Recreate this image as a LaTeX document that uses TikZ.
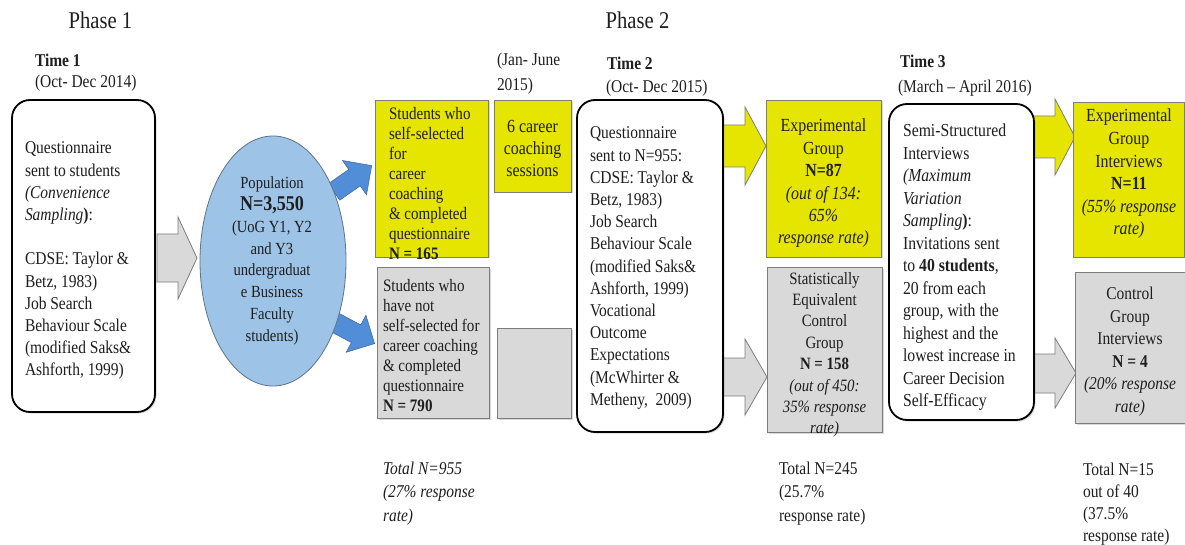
\documentclass[tikz,border=0pt]{standalone}
\usepackage{fontspec}
\setmainfont{Liberation Serif}[FakeStretch=0.86]
\usetikzlibrary{shapes.geometric,shadows}
\definecolor{ylw}{RGB}{229,229,0}
\definecolor{gbox}{RGB}{217,217,217}
\definecolor{gedge}{RGB}{125,125,125}
\definecolor{ellfill}{RGB}{157,195,230}
\definecolor{elledge}{RGB}{95,115,140}
\definecolor{barrow}{RGB}{82,142,216}
\definecolor{barrowedge}{RGB}{60,100,160}
\definecolor{txt}{RGB}{30,30,30}
\begin{document}
\begin{tikzpicture}[x=1pt,y=-1pt,
  every node/.style={inner sep=0pt, outer sep=0pt, text=txt},
  shad/.style={drop shadow={shadow xshift=1.5pt, shadow yshift=-1.5pt, opacity=0.3}},
  rbox/.style={draw=black, line width=1.8pt, rounded corners=18pt, fill=white, shad},
  ybox/.style={draw=gedge, line width=0.8pt, fill=ylw, shad},
  gybox/.style={draw=gedge, line width=0.8pt, fill=gbox, shad},
  ellbox/.style={ellipse, draw=elledge, line width=0.8pt, fill=ellfill},
  garrow/.style={draw=gedge, line width=0.8pt, fill=gbox},
  yarrow/.style={draw=gedge, line width=0.8pt, fill=ylw},
  barr/.style={draw=barrowedge, line width=0.5pt, fill=barrow},
  body/.style={font=\fontsize{18}{22.2}\selectfont, align=left},
  small/.style={font=\fontsize{17.5}{20}\selectfont, align=left},
  ctr/.style={font=\fontsize{18}{22.4}\selectfont, align=center},
  head/.style={font=\fontsize{18}{22}\selectfont},
  headb/.style={font=\fontsize{18}{22}\selectfont\bfseries},
  phase/.style={font=\fontsize{24}{26}\selectfont}
]
\useasboundingbox (0,0) rectangle (1185,545);

% block arrows
\draw[garrow] (157,234) -- (178,234) -- (178,217) -- (197,258) -- (178,299) -- (178,282) -- (157,282) -- cycle;
\begin{scope}[shift={(334,192)}, rotate=35]
  \draw[barr] (0,-10) -- (25,-10) -- (25,-21) -- (46,0) -- (25,21) -- (25,10) -- (0,10) -- cycle;
\end{scope}
\begin{scope}[shift={(334,322)}, rotate=-28]
  \draw[barr] (0,-10) -- (25,-10) -- (25,-21) -- (46,0) -- (25,21) -- (25,10) -- (0,10) -- cycle;
\end{scope}
\draw[yarrow] (722,125) -- (745,125) -- (745,107) -- (766,146) -- (745,185) -- (745,167) -- (722,167) -- cycle;
\draw[garrow] (722,358) -- (745,358) -- (745,339) -- (767,377) -- (745,415) -- (745,396) -- (722,396) -- cycle;
\draw[yarrow] (1033,116) -- (1055,116) -- (1055,99) -- (1075,137) -- (1055,175) -- (1055,158) -- (1033,158) -- cycle;
\draw[garrow] (1033,354) -- (1055,354) -- (1055,338) -- (1076,373) -- (1055,408) -- (1055,393) -- (1033,393) -- cycle;

% boxes
\node[rbox, minimum width=143, minimum height=312] (t1box) at (83.5,256) {};
\node[ellbox, minimum width=146, minimum height=250] (pop) at (273,261) {};
\node[ybox, minimum width=113, minimum height=157] (sel) at (431.5,178.5) {};
\node[gybox, minimum width=112, minimum height=151] (nsel) at (433,342.5) {};
\node[ybox, minimum width=77, minimum height=92] (sess) at (532.5,146) {};
\node[gybox, minimum width=74, minimum height=90] (nsess) at (534,373) {};
\node[rbox, minimum width=146, minimum height=332] (t2box) at (650,266) {};
\node[ybox, minimum width=115, minimum height=157] (exp) at (823.5,178.5) {};
\node[gybox, minimum width=115, minimum height=165] (ctl) at (824.5,349.5) {};
\node[rbox, minimum width=145, minimum height=316] (t3box) at (961.5,262) {};
\node[ybox, minimum width=111, minimum height=155] (expi) at (1129,179.5) {};
\node[gybox, minimum width=110, minimum height=151] (ctli) at (1130,347.5) {};

% headers
\node[phase] (ph1) at (100.5,20) {Phase 1};
\node[phase] (ph2) at (637.5,20) {Phase 2};
\node[headb, anchor=west] (tm1) at (35,60) {Time 1};
\node[head, anchor=west] (tm1d) at (35,83) {(Oct- Dec 2014)};
\node[head, anchor=north west, align=left, font=\fontsize{18}{25}\selectfont] (jan) at (497,53) {(Jan- June\\2015)};
\node[headb, anchor=west] (tm2) at (607,63) {Time 2};
\node[head, anchor=west] (tm2d) at (606,88) {(Oct- Dec 2015)};
\node[headb, anchor=west] (tm3) at (900,61) {Time 3};
\node[head, anchor=west] (tm3d) at (898,88) {(March -- April 2016)};

% texts
\node[body, anchor=north west] (t1txt) at (25,142) {Questionnaire\\sent to students\\\textit{(Convenience}\\\textit{Sampling}\textbf{)}:\\[22.2pt]CDSE: Taylor \&\\Betz, 1983)\\Job Search\\Behaviour Scale\\(modified Saks\&\\Ashforth, 1999)};
\node[align=center, anchor=north, font=\fontsize{17}{21.8}\selectfont] (poptxt) at (272,177) {Population\\{\fontsize{21}{21.8}\selectfont\textbf{N=3,550}}\\(UoG Y1, Y2\\and Y3\\undergraduat\\e Business\\Faculty\\students)};
\node[small, anchor=north west] (seltxt) at (389,107) {Students who\\self-selected\\for\\career\\coaching\\\& completed\\questionnaire\\\textbf{N = 165}};
\node[small, anchor=north west] (nseltxt) at (383,279) {Students who\\have not\\self-selected for\\career coaching\\\& completed\\questionnaire\\\textbf{N = 790}};
\node[ctr, anchor=north, font=\fontsize{18.5}{22}\selectfont] (sesstxt) at (532.5,120) {6 career\\coaching\\sessions};
\node[body, anchor=north west] (t2txt) at (590,127) {Questionnaire\\sent to N=955:\\CDSE: Taylor \&\\Betz, 1983)\\Job Search\\Behaviour Scale\\(modified Saks\&\\Ashforth, 1999)\\Vocational\\Outcome\\Expectations\\(McWhirter \&\\Metheny,\ \ 2009)};
\node[ctr, anchor=north, font=\fontsize{18.5}{22.4}\selectfont] (exptxt) at (823.5,119) {Experimental\\Group\\\textbf{N=87}\\\textit{(out of 134:}\\\textit{65\%}\\\textit{response rate)}};
\node[ctr, anchor=north, font=\fontsize{17.3}{21.4}\selectfont] (ctltxt) at (824.5,272) {Statistically\\Equivalent\\Control\\Group\\\textbf{N = 158}\\\textit{(out of 450:}\\\textit{35\% response}\\\textit{rate)}};
\node[body, anchor=north west, font=\fontsize{18.3}{22.5}\selectfont] (t3txt) at (903,124) {Semi-Structured\\Interviews\\\textit{(Maximum}\\\textit{Variation}\\\textit{Sampling}\textbf{)}:\\Invitations sent\\to \textbf{40 students},\\20 from each\\group, with the\\highest and the\\lowest increase in\\Career Decision\\Self-Efficacy};
\node[ctr, anchor=north, font=\fontsize{18.5}{22.6}\selectfont] (expitxt) at (1129,109) {Experimental\\Group\\Interviews\\\textbf{N=11}\\\textit{(55\% response}\\\textit{rate)}};
\node[ctr, anchor=north, font=\fontsize{18}{22.6}\selectfont] (ctlitxt) at (1130,287) {Control\\Group\\Interviews\\\textbf{N = 4}\\\textit{(20\% response}\\\textit{rate)}};

% totals
\node[anchor=north west, align=left, font=\fontsize{18}{23.5}\selectfont\itshape] (tot1) at (383,462) {Total N=955\\(27\% response\\rate)};
\node[anchor=north west, align=left, font=\fontsize{18}{23.5}\selectfont] (tot2) at (779,462) {Total N=245\\(25.7\%\\response rate)};
\node[anchor=north west, align=left, font=\fontsize{18}{22}\selectfont] (tot3) at (1083,463) {Total N=15\\out of 40\\(37.5\%\\response rate)};
\end{tikzpicture}
\end{document}
